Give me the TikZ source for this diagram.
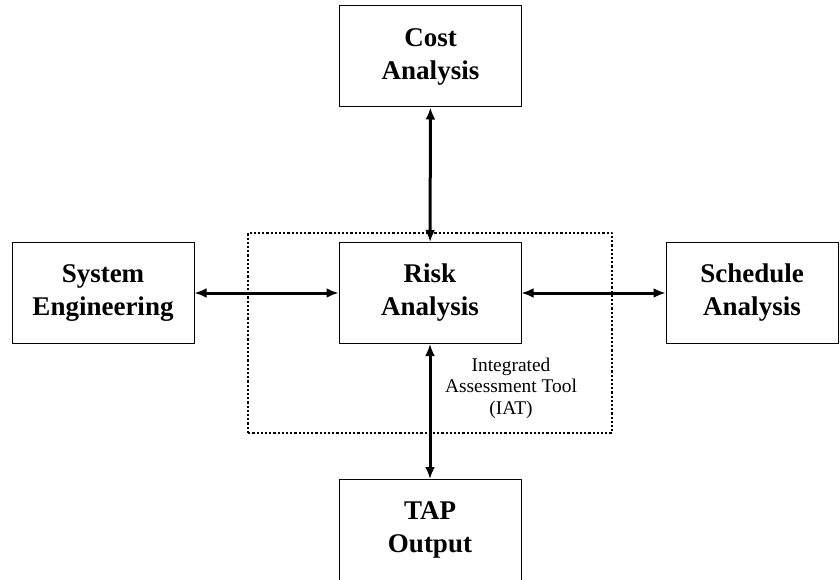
\documentclass[tikz,border=0pt]{standalone}
\usepackage{fontspec}
\setmainfont{Liberation Serif}
\usetikzlibrary{arrows.meta}
\begin{document}
\begin{tikzpicture}[x=1pt,y=1pt,line join=round,>={Latex[length=12pt,width=10pt]},
  box/.style={draw,line width=1pt,minimum width=182pt,minimum height=101pt,align=center,inner sep=0pt,font=\fontsize{27}{33}\selectfont\bfseries},
  link/.style={<->,line width=3pt}]
\useasboundingbox (0,0) rectangle (840,579);
% IAT frame
\draw[line width=2.6pt,dash pattern=on 2.2pt off 2pt] (248,146) rectangle (612,346);
\node[align=center,font=\fontsize{19.4}{21.5}\selectfont] (iat) at (511,191) {Integrated\\Assessment Tool\\(IAT)};
\node[box] (risk) at (430,286) {Risk\\Analysis};
\node[box] (cost) at (430.5,522.5) {Cost\\Analysis};
\node[box] (syseng) at (103,286) {System\\Engineering};
\node[box,minimum width=172pt] (sched) at (752,286) {Schedule\\Analysis};
\node[box] (tap) at (430,49) {TAP\\Output};
\draw[link] (cost) -- (risk);
\draw[link] (syseng) -- (risk);
\draw[link] (risk) -- (sched);
\draw[link] (risk) -- (tap);
\end{tikzpicture}
\end{document}
